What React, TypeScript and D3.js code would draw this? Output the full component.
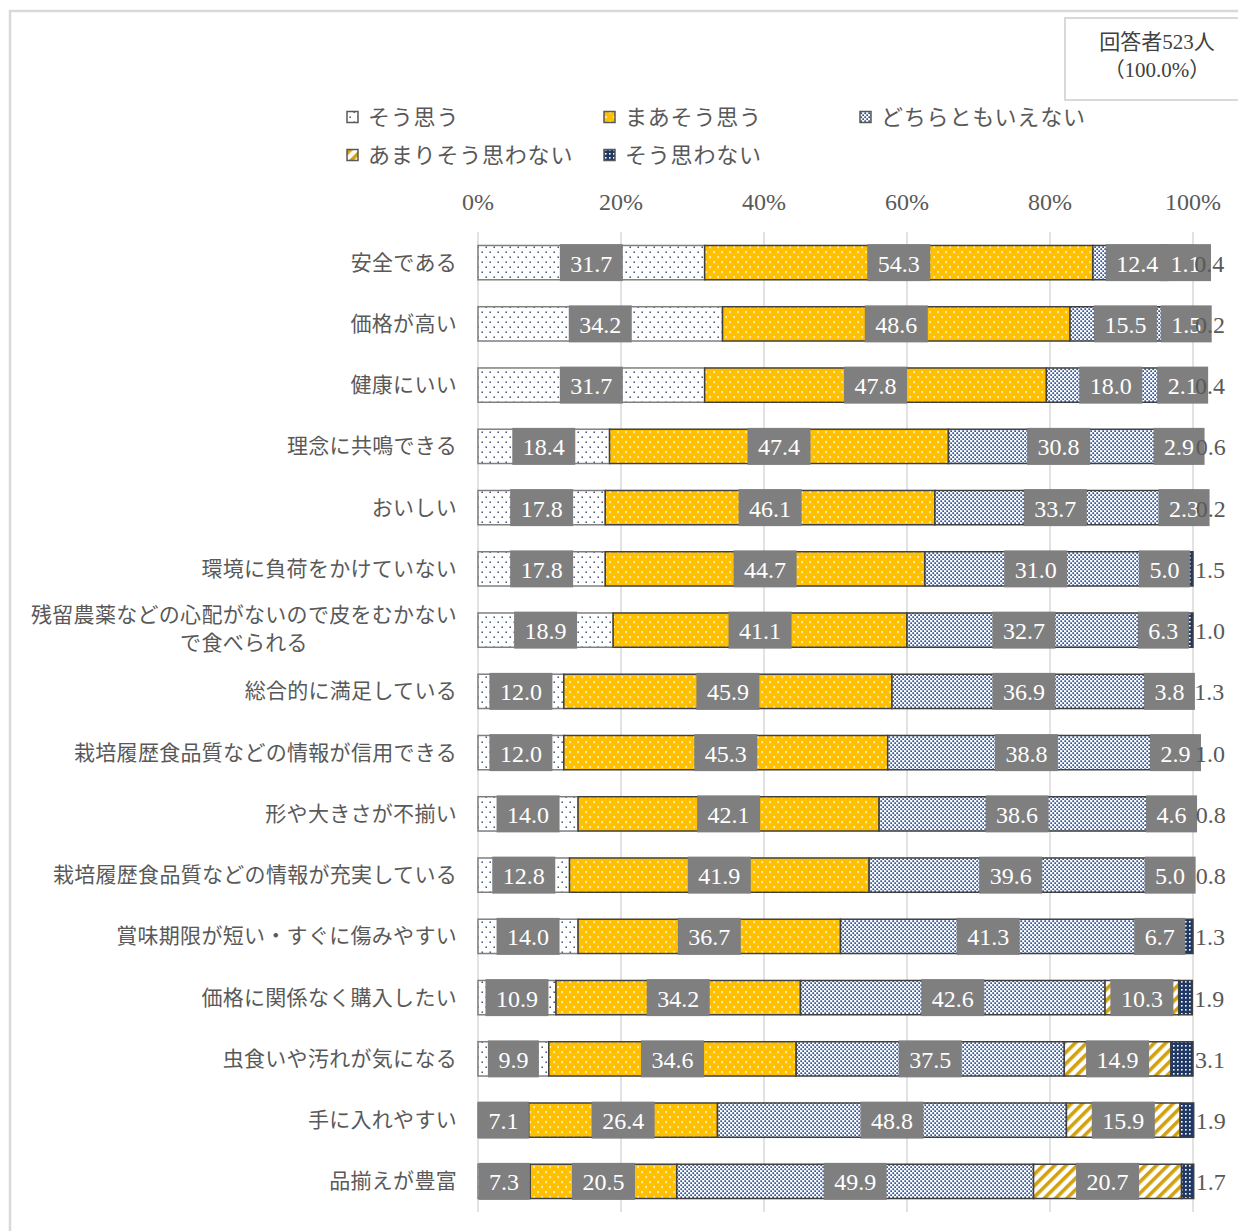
import React from "react";
import * as d3 from "d3";

// categories (top to bottom)
const categories = [
  "安全である",
  "価格が高い",
  "健康にいい",
  "理念に共鳴できる",
  "おいしい",
  "環境に負荷をかけていない",
  "残留農薬などの心配がないので皮をむかないで食べられる",
  "総合的に満足している",
  "栽培履歴食品質などの情報が信用できる",
  "形や大きさが不揃い",
  "栽培履歴食品質などの情報が充実している",
  "賞味期限が短い・すぐに傷みやすい",
  "価格に関係なく購入したい",
  "虫食いや汚れが気になる",
  "手に入れやすい",
  "品揃えが豊富",
];

const seriesNames = ["そう思う", "まあそう思う", "どちらともいえない", "あまりそう思わない", "そう思わない"];

const soOmou = [31.7, 34.2, 31.7, 18.4, 17.8, 17.8, 18.9, 12.0, 12.0, 14.0, 12.8, 14.0, 10.9, 9.9, 7.1, 7.3];
const maaSoOmou = [54.3, 48.6, 47.8, 47.4, 46.1, 44.7, 41.1, 45.9, 45.3, 42.1, 41.9, 36.7, 34.2, 34.6, 26.4, 20.5];
const dochiramo = [12.4, 15.5, 18.0, 30.8, 33.7, 31.0, 32.7, 36.9, 38.8, 38.6, 39.6, 41.3, 42.6, 37.5, 48.8, 49.9];
const amari = [1.1, 1.5, 2.1, 2.9, 2.3, 5.0, 6.3, 3.8, 2.9, 4.6, 5.0, 6.7, 10.3, 14.9, 15.9, 20.7];
const soOmowanai = [0.4, 0.2, 0.4, 0.6, 0.2, 1.5, 1.0, 1.3, 1.0, 0.8, 0.8, 1.3, 1.9, 3.1, 1.9, 1.7];

const tickValues = [0, 20, 40, 60, 80, 100];

const seriesValues = [soOmou, maaSoOmou, dochiramo, amari, soOmowanai];

const W = 1238;
const H = 1231;
const FONT = '"Liberation Serif", "Noto Sans CJK JP", serif';
const TEXT = "#595959";

let measureCtx: CanvasRenderingContext2D | null = null;
function textWidth(s: string, size: number) {
  if (!measureCtx) measureCtx = document.createElement("canvas").getContext("2d");
  if (!measureCtx) return s.length * size * 0.5;
  measureCtx.font = `${size}px "Liberation Serif"`;
  return measureCtx.measureText(s).width;
}

function Patterns() {
  return (
    <defs>
      <pattern id="p0" width="8" height="10" patternUnits="userSpaceOnUse">
        <rect width="8" height="10" fill="#ffffff" />
        <rect x="1.5" y="1.5" width="1.4" height="1.4" fill="#1f3864" />
        <rect x="5.5" y="6.5" width="1.4" height="1.4" fill="#1f3864" />
      </pattern>
      <pattern id="p1" width="8" height="10" patternUnits="userSpaceOnUse">
        <rect width="8" height="10" fill="#ffc000" />
        <rect x="1.5" y="1" width="1.2" height="2.2" fill="#ffffff" />
        <rect x="5.5" y="6" width="1.2" height="2.2" fill="#ffffff" />
      </pattern>
      <pattern id="p2" width="4" height="4" patternUnits="userSpaceOnUse">
        <rect width="4" height="4" fill="#ffffff" />
        <rect x="0.3" y="0.3" width="1.8" height="1.8" fill="#2f5597" />
        <rect x="2.3" y="2.3" width="1.8" height="1.8" fill="#2f5597" />
      </pattern>
      <pattern id="p3" width="8" height="8" patternUnits="userSpaceOnUse" patternTransform="rotate(45)">
        <rect width="8" height="8" fill="#ffffff" />
        <rect x="0" y="0" width="3.6" height="8" fill="#d1a10e" />
      </pattern>
      <pattern id="p4" width="4" height="4" patternUnits="userSpaceOnUse">
        <rect width="4" height="4" fill="#1f3864" />
        <rect x="1" y="1" width="1.6" height="1.6" fill="#ffffff" />
      </pattern>
    </defs>
  );
}

export default function App() {
  const x = d3.scaleLinear().domain([0, 100]).range([478, 1193]);
  const y = d3
    .scaleBand<string>()
    .domain(categories)
    .range([232, 1212])
    .paddingInner(0.44)
    .paddingOuter(0.22);

  const rows = categories.map((c, i) => {
    const r: any = { cat: c };
    seriesNames.forEach((s, k) => (r[s] = seriesValues[k][i]));
    return r;
  });
  const stacked = d3.stack<any>().keys(seriesNames)(rows);

  const bw = y.bandwidth();
  const boxH = 37;

  return (
    <svg
      width={W}
      height={H}
      style={{ position: "absolute", left: 0, top: 0, background: "#fff" }}
      fontFamily={FONT}
    >
      <Patterns />
      {/* chart border */}
      <rect x={10} y={11} width={1300} height={1300} fill="none" stroke="#d9d9d9" strokeWidth={2.5} />

      {/* respondents box */}
      <rect x={1065} y={18} width={200} height={82} fill="#fff" stroke="#d9d9d9" strokeWidth={2} />
      <text x={1157} y={42} textAnchor="middle" dominantBaseline="central" fontSize={21} fill="#404040">
        回答者523人
      </text>
      <text x={1157} y={70} textAnchor="middle" dominantBaseline="central" fontSize={21} fill="#404040">
        （100.0%）
      </text>

      {/* legend */}
      {seriesNames.map((s, k) => {
        const col = k < 3 ? k : k - 3;
        const row = k < 3 ? 0 : 1;
        const lx = [347, 604, 860][col];
        const ly = [117, 155][row];
        return (
          <g key={s}>
            <rect x={lx} y={ly - 5.5} width={11} height={11} fill={`url(#p${k})`} stroke="#595959" strokeWidth={1.5} />
            <text x={lx + 21} y={ly} dominantBaseline="central" fontSize={22} letterSpacing={0.8} fill={TEXT}>
              {s}
            </text>
          </g>
        );
      })}

      {/* x axis labels */}
      {tickValues.map((t) => (
        <text key={t} x={x(t)} y={202} textAnchor="middle" dominantBaseline="central" fontSize={24} fill={TEXT}>
          {t}%
        </text>
      ))}

      {/* grid lines */}
      {tickValues.map((t) => (
        <line key={t} x1={x(t)} x2={x(t)} y1={232} y2={1212} stroke="#d9d9d9" strokeWidth={1.5} />
      ))}

      {/* category labels */}
      {categories.map((c) => {
        const cy = (y(c) as number) + bw / 2;
        if (c.length > 20) {
          const l1 = c.slice(0, 20);
          const l2 = c.slice(20);
          const cx = 457 - (20 * 21.3) / 2;
          return (
            <g key={c}>
              <text x={cx} y={cy - 15} textAnchor="middle" dominantBaseline="central" fontSize={21} letterSpacing={0.3} fill={TEXT}>
                {l1}
              </text>
              <text x={cx} y={cy + 13} textAnchor="middle" dominantBaseline="central" fontSize={21} letterSpacing={0.3} fill={TEXT}>
                {l2}
              </text>
            </g>
          );
        }
        return (
          <text key={c} x={457} y={cy} textAnchor="end" dominantBaseline="central" fontSize={21} letterSpacing={0.3} fill={TEXT}>
            {c}
          </text>
        );
      })}

      {/* bars */}
      {stacked.map((layer, k) =>
        layer.map((d, i) => (
          <rect
            key={`${k}-${i}`}
            x={x(d[0])}
            y={y(categories[i]) as number}
            width={Math.max(0, x(d[1]) - x(d[0]))}
            height={bw}
            fill={`url(#p${k})`}
            stroke={k === 0 ? "#7f7f7f" : "#404040"}
            strokeWidth={1.5}
          />
        ))
      )}

      {/* data labels in boxes (first four series) */}
      {categories.map((c, i) => {
        const cy = (y(c) as number) + bw / 2;
        return (
          <g key={c}>
            {stacked.slice(0, 4).map((layer, k) => {
              const d = layer[i];
              const label = seriesValues[k][i].toFixed(1);
              const tw = textWidth(label, 24);
              const bwid = tw + 21;
              const cx = (x(d[0]) + x(d[1])) / 2;
              return (
                <g key={k}>
                  <rect x={cx - bwid / 2} y={cy - boxH / 2} width={bwid} height={boxH} fill="#7f7f7f" />
                  <text x={cx} y={cy + 1} textAnchor="middle" dominantBaseline="central" fontSize={24} fill="#ffffff">
                    {label}
                  </text>
                </g>
              );
            })}
          </g>
        );
      })}

      {/* last series labels outside the bar end */}
      {categories.map((c, i) => {
        const cy = (y(c) as number) + bw / 2;
        const d = stacked[4][i];
        return (
          <text key={c} x={x(d[1]) + 2} y={cy + 1} dominantBaseline="central" fontSize={24} fill={TEXT}>
            {soOmowanai[i].toFixed(1)}
          </text>
        );
      })}
    </svg>
  );
}
